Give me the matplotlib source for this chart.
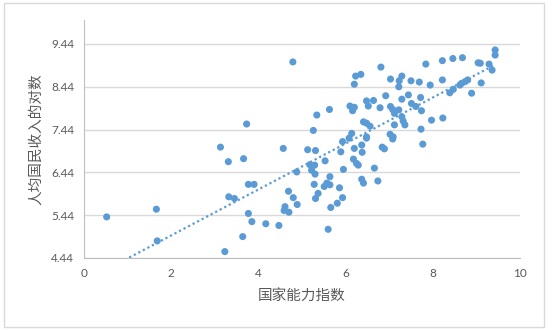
import numpy as np
import matplotlib
matplotlib.use("Agg")
import matplotlib.pyplot as plt
from matplotlib.patches import Rectangle

plt.rcParams['font.family'] = ['Noto Sans CJK SC', 'DejaVu Sans']

# values
state_capacity = [
    0.52, 1.66, 1.68, 3.13, 3.23, 3.31, 3.32, 3.45, 3.64, 3.66,
    3.73, 3.77, 3.90, 3.77, 3.85, 4.17, 4.47, 4.57, 4.79, 4.59,
    4.61, 4.70, 4.69, 4.80, 4.89, 4.88, 5.13, 5.31, 5.26, 5.34,
    5.63, 5.18, 5.29, 5.22, 5.30, 5.53, 5.64, 5.57, 5.51, 5.64,
    5.28, 5.37, 5.31, 5.86, 5.93, 5.81, 5.66, 5.60, 5.89, 5.93,
    5.95, 6.08, 6.20, 6.37, 6.38, 6.18, 6.25, 6.29, 6.37, 6.41,
    6.66, 6.74, 6.48, 6.84, 6.89, 7.08, 6.14, 6.48, 7.02, 7.09,
    6.81, 6.23, 6.35, 6.20, 7.03, 7.29, 7.23, 7.22, 7.50, 7.69,
    7.84, 7.94, 8.22, 8.46, 8.68, 9.04, 9.09, 9.29, 9.43, 9.43,
    9.36, 9.11, 8.89, 8.39, 8.47, 8.62, 8.66, 8.74, 8.80, 8.22,
    8.23, 7.97, 7.77, 7.73, 7.72, 7.74, 7.61, 7.51, 7.44, 7.29,
    6.92, 6.10, 6.20, 6.16, 6.48, 6.64, 6.52, 6.79, 7.03, 7.08,
    7.22, 7.12, 7.29, 7.32, 7.36, 7.12, 6.41, 6.48, 6.56,
]
log_income = [
    5.40, 5.58, 4.84, 7.03, 4.59, 6.69, 5.87, 5.83, 4.94, 6.76,
    7.57, 6.16, 6.16, 5.48, 5.29, 5.24, 5.20, 7.00, 9.02, 5.55,
    5.64, 5.51, 6.00, 5.85, 5.69, 6.45, 6.97, 6.95, 7.42, 7.78,
    7.91, 6.62, 6.61, 6.49, 6.40, 6.71, 6.34, 6.19, 6.11, 6.15,
    6.16, 5.95, 5.83, 6.08, 5.85, 5.72, 5.62, 5.11, 6.92, 7.16,
    6.51, 7.24, 7.00, 7.08, 6.91, 6.75, 6.65, 6.61, 6.28, 6.19,
    6.54, 6.24, 7.24, 7.03, 6.99, 7.22, 7.35, 7.27, 7.33, 7.27,
    8.90, 8.69, 8.73, 8.50, 8.62, 8.69, 8.58, 8.44, 8.58, 8.55,
    8.97, 8.48, 9.05, 9.10, 9.12, 9.00, 8.99, 8.97, 9.30, 9.18,
    8.83, 8.53, 8.29, 8.30, 8.38, 8.48, 8.52, 8.56, 8.60, 8.60,
    7.71, 7.66, 7.10, 7.45, 8.19, 7.88, 7.98, 8.05, 8.25, 8.15,
    8.23, 7.99, 7.96, 7.88, 8.11, 8.12, 7.99, 7.95, 7.98, 7.91,
    7.90, 7.82, 7.74, 7.64, 7.55, 7.55, 7.62, 7.59, 7.52,
]
y_ticks = [4.44, 5.44, 6.44, 7.44, 8.44, 9.44]
x_ticks = [0, 2, 4, 6, 8, 10]

x = np.array(state_capacity)
y = np.array(log_income)

blue = "#5B9BD5"
text_grey = "#595959"

fig = plt.figure(figsize=(5.55, 3.31), dpi=100)
fig.patches.append(Rectangle((4 / 555, 1 - 327 / 331), 540 / 555, 324 / 331,
                             transform=fig.transFigure, fill=False,
                             edgecolor="#D9D9D9", linewidth=1.0))

ax = fig.add_axes([84 / 555, 1 - 258 / 331, 436 / 555, 238 / 331])

ax.scatter(x, y, s=26, color=blue, edgecolors="none", zorder=3)

# linear trendline (like Excel), over the data range
k, b = np.polyfit(x, y, 1)
xs = np.array([x.min(), x.max()])
ax.plot(xs, k * xs + b, color=blue, linestyle=(0, (1, 1.3)), linewidth=1.6, zorder=2)

ax.set_xlim(0, 10)
ax.set_ylim(4.44, 10.0)
ax.set_xticks(x_ticks)
ax.set_yticks(y_ticks)
ax.set_yticklabels([f"{v:.2f}" for v in y_ticks])
ax.grid(axis="y", color="#D9D9D9", linewidth=1.0, zorder=0)
ax.set_axisbelow(True)

for side in ["top", "right"]:
    ax.spines[side].set_visible(False)
ax.spines["left"].set_color("#BFBFBF")
ax.spines["bottom"].set_color("#BFBFBF")

ax.tick_params(length=0, labelsize=8.5, labelcolor=text_grey, pad=7)
for lab in ax.get_xticklabels() + ax.get_yticklabels():
    lab.set_family(['Lato', 'DejaVu Sans'])

ax.set_xlabel("国家能力指数", fontsize=10.5, color=text_grey, labelpad=7)
ax.set_ylabel("人均国民收入的对数", fontsize=10.5, color=text_grey, labelpad=6)

fig.savefig("out.png", dpi=100)
